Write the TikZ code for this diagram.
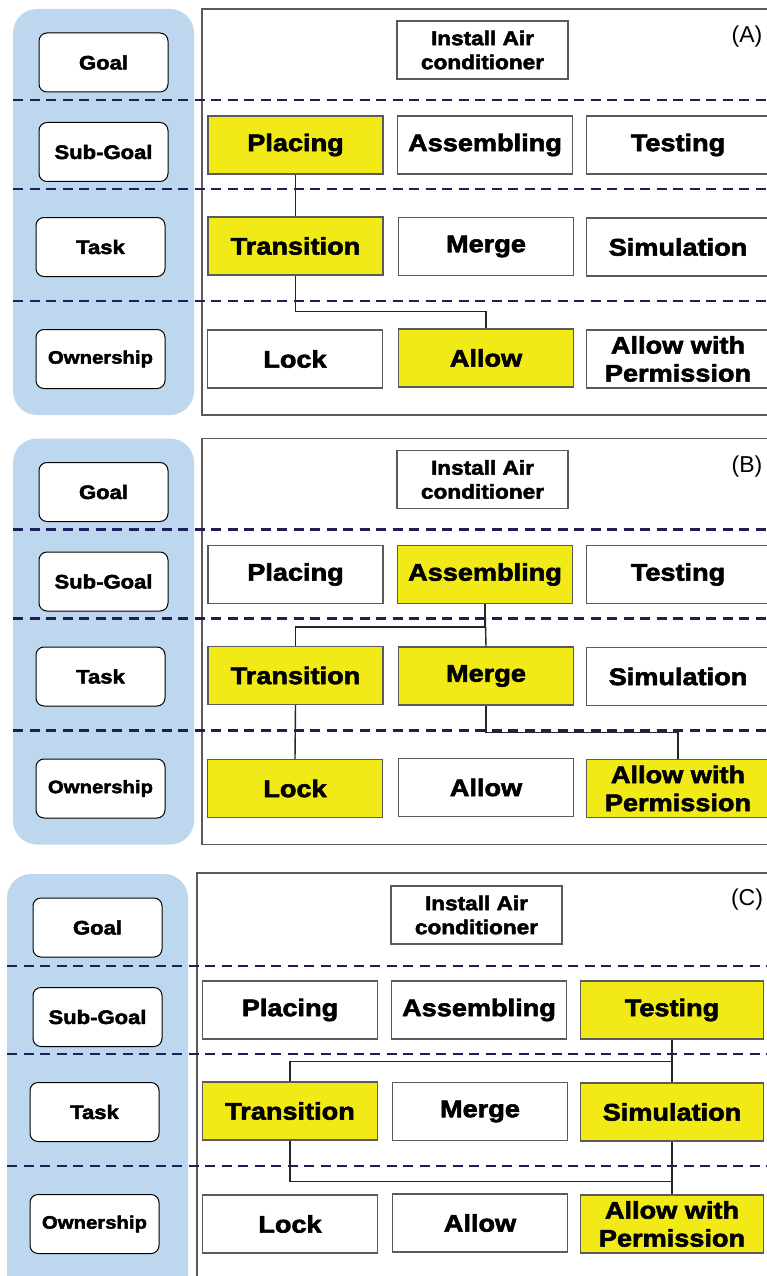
\documentclass[tikz,border=0pt]{standalone}
\usepackage{fontspec}
\setmainfont{Liberation Sans}
\newfontfamily\boxfont[UprightFont={* Bold},FakeStretch=1.13,FakeBold=2.5]{Liberation Sans}
\definecolor{panelblue}{RGB}{189,215,238}
\definecolor{hlyellow}{RGB}{242,234,22}
\definecolor{boxgray}{RGB}{90,90,90}
\definecolor{navy}{RGB}{30,30,90}
\tikzset{
  opt/.style={draw=boxgray, line width=1.3pt, fill=white, minimum height=58pt, inner sep=0pt, align=center,
    font=\boxfont\fontsize{24}{28}\selectfont},
  hl/.style={opt, fill=hlyellow},
  lvl/.style={draw=black, line width=1pt, rounded corners=8pt, fill=white, minimum width=129pt, minimum height=59pt,
    inner sep=0pt, font=\boxfont\fontsize{19.5}{22}\selectfont},
  goalbox/.style={draw=boxgray, line width=1.3pt, fill=white, minimum width=171pt, minimum height=58pt, inner sep=0pt,
    align=center, font=\boxfont\fontsize{20}{24}\selectfont},
  sep/.style={draw=navy, line width=2.6pt, dash pattern=on 10pt off 6.5pt},
  link/.style={draw=black!85, line width=1.4pt},
  tag/.style={font=\fontsize{23}{26}\selectfont},
  frame/.style={draw=boxgray, line width=1.3pt},
  lane/.style={fill=panelblue, rounded corners=24pt}
}
\begin{document}
\begin{tikzpicture}[x=1pt,y=-1pt]
\clip (0,0) rectangle (767,1276);
\fill[white] (0,0) rectangle (767,1276);

% ---------------- Panel A ----------------
\begin{scope}
\fill[lane] (13,9) rectangle (194,415);
\draw[frame] (202,9) rectangle (790,415);
\draw[sep] (13,100) -- (767,100);
\draw[sep] (13,189) -- (767,189);
\draw[sep] (13,301) -- (767,301);
\node[lvl] (goalA) at (103.5,62.5) {Goal};
\node[lvl] (subA) at (103.5,152) {Sub-Goal};
\node[lvl] (taskA) at (100.5,247) {Task};
\node[lvl, font=\boxfont\fontsize{18}{20}\selectfont] (ownA) at (100.5,359) {Ownership};
\node[goalbox] (installA) at (482.5,50) {Install Air\\conditioner};
\node[tag] (labA) at (747,37) {(A)};
\node[hl, minimum width=175pt] (placingA) at (295.5,145) {Placing};
\node[opt, minimum width=175pt] (assemblingA) at (485,145) {Assembling};
\node[opt, minimum width=183pt] (testingA) at (678,145) {Testing};
\node[hl, minimum width=175pt] (transitionA) at (295.5,246) {Transition};
\node[opt, minimum width=175pt] (mergeA) at (486,246.5) {Merge};
\node[opt, minimum width=183pt] (simulationA) at (678,247) {Simulation};
\node[opt, minimum width=175pt] (lockA) at (295,359) {Lock};
\node[hl, minimum width=175pt] (allowA) at (486,358) {Allow};
\node[opt, minimum width=183pt] (permA) at (678,359) {Allow with\\Permission};
\draw[link] (placingA.south) -- (transitionA.north);
\draw[link] (transitionA.south) -- ++(0,36) -| (allowA.north);
\end{scope}

% ---------------- Panel B ----------------
\begin{scope}[shift={(0,429.5)}]
\fill[lane] (13,9) rectangle (194,415);
\draw[frame] (202,9) rectangle (790,415);
\draw[sep] (13,100) -- (767,100);
\draw[sep] (13,189) -- (767,189);
\draw[sep] (13,301) -- (767,301);
\node[lvl] (goalB) at (103.5,62.5) {Goal};
\node[lvl] (subB) at (103.5,152) {Sub-Goal};
\node[lvl] (taskB) at (100.5,247) {Task};
\node[lvl, font=\boxfont\fontsize{18}{20}\selectfont] (ownB) at (100.5,359) {Ownership};
\node[goalbox] (installB) at (482.5,50) {Install Air\\conditioner};
\node[tag] (labB) at (747,37) {(B)};
\node[opt, minimum width=175pt] (placingB) at (295.5,145) {Placing};
\node[hl, minimum width=175pt] (assemblingB) at (485,145) {Assembling};
\node[opt, minimum width=183pt] (testingB) at (678,145) {Testing};
\node[hl, minimum width=175pt] (transitionB) at (295.5,246) {Transition};
\node[hl, minimum width=175pt] (mergeB) at (486,246.5) {Merge};
\node[opt, minimum width=183pt] (simulationB) at (678,247) {Simulation};
\node[hl, minimum width=175pt] (lockB) at (295,359) {Lock};
\node[opt, minimum width=175pt] (allowB) at (486,358) {Allow};
\node[hl, minimum width=183pt] (permB) at (678,359) {Allow with\\Permission};
\draw[link] (assemblingB.south) -- ++(0,23) -| (transitionB.north);
\draw[link] (assemblingB.south) -- (mergeB.north);
\draw[link] (transitionB.south) -- (lockB.north);
\draw[link] (mergeB.south) -- ++(0,27) -| (permB.north);
\end{scope}

% ---------------- Panel C ----------------
\begin{scope}[shift={(-6,865)}]
\fill[lane] (13,9) rectangle (194,460);
\draw[frame] (203,8) rectangle (790,460);
\draw[sep] (13,101) -- (773,101);
\draw[sep] (13,189) -- (773,189);
\draw[sep] (13,301) -- (773,301);
\node[lvl] (goalC) at (103.5,62.5) {Goal};
\node[lvl] (subC) at (103.5,152) {Sub-Goal};
\node[lvl] (taskC) at (100.5,247) {Task};
\node[lvl, font=\boxfont\fontsize{18}{20}\selectfont] (ownC) at (100.5,359) {Ownership};
\node[goalbox] (installC) at (482.5,50) {Install Air\\conditioner};
\node[tag] (labC) at (753,35) {(C)};
\node[opt, minimum width=175pt] (placingC) at (296,145) {Placing};
\node[opt, minimum width=175pt] (assemblingC) at (485,145) {Assembling};
\node[hl, minimum width=183pt] (testingC) at (678,145) {Testing};
\node[hl, minimum width=175pt] (transitionC) at (296,246) {Transition};
\node[opt, minimum width=175pt] (mergeC) at (486,246.5) {Merge};
\node[hl, minimum width=183pt] (simulationC) at (678,247) {Simulation};
\node[opt, minimum width=175pt] (lockC) at (296,359) {Lock};
\node[opt, minimum width=175pt] (allowC) at (486,358) {Allow};
\node[hl, minimum width=183pt] (permC) at (678,359) {Allow with\\Permission};
\draw[link] (testingC.south) -- (simulationC.north);
\draw[link] (testingC.south) -- ++(0,22) -| (transitionC.north);
\draw[link] (simulationC.south) -- (permC.north);
\draw[link] (permC.north) -- ++(0,-13) -| (transitionC.south);
\end{scope}
\end{tikzpicture}
\end{document}
